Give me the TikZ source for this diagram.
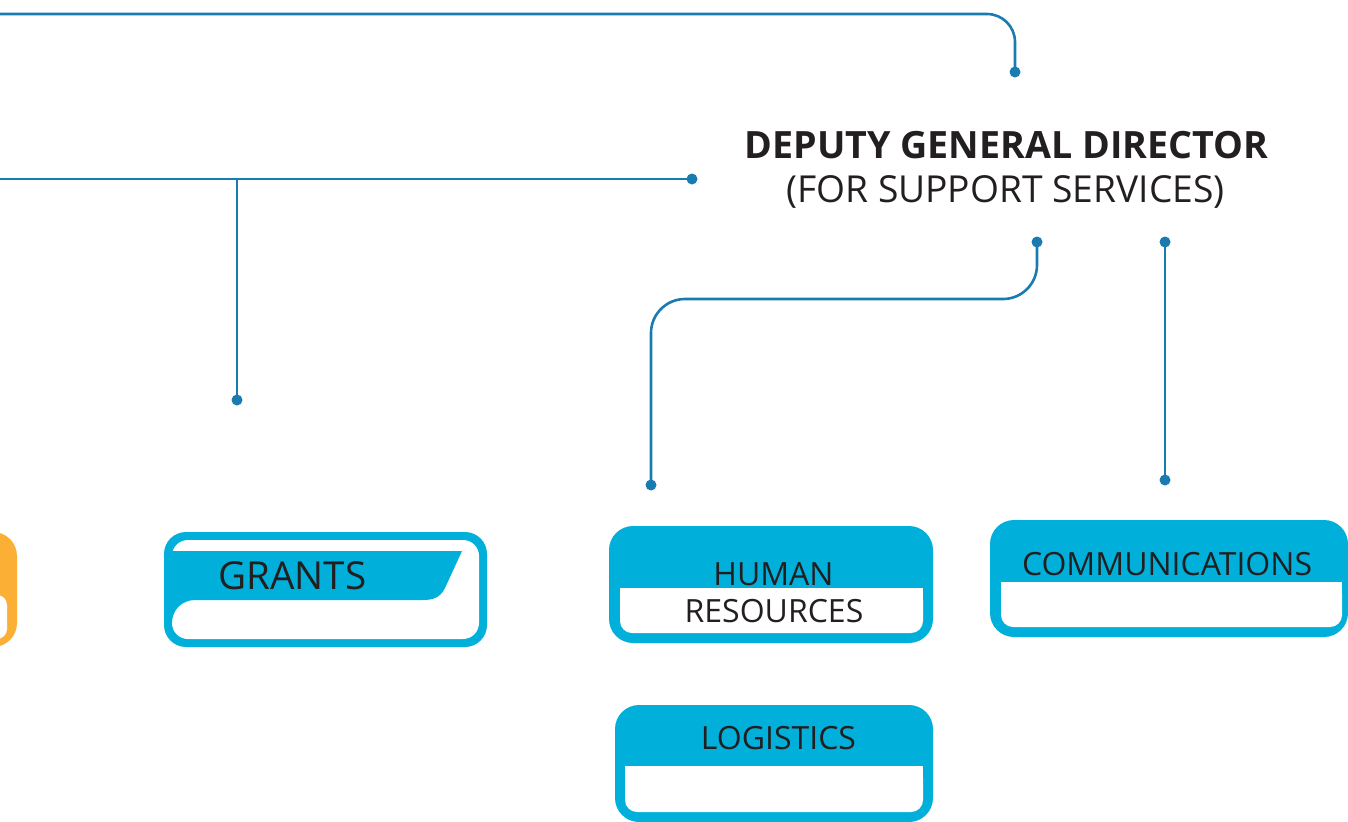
\documentclass[tikz,border=0pt]{standalone}
\usepackage{fontspec}
\setmainfont{Open Sans}
\usetikzlibrary{positioning}
\definecolor{linkblue}{HTML}{1A7BB0}
\definecolor{boxcyan}{HTML}{00B0DA}
\definecolor{boxorange}{HTML}{FBAF35}
\definecolor{inkgrey}{HTML}{231F20}

\begin{document}
\begin{tikzpicture}[x=0.5pt,y=-0.5pt,
  link/.style={draw=linkblue,line width=1.3pt},
  dot/.style={circle,fill=linkblue,inner sep=0pt,minimum size=5.5pt},
  unit box/.style={rectangle,rounded corners=12pt,fill=boxcyan,inner sep=0pt,outer sep=0pt},
  box label/.style={text=inkgrey,font=\fontsize{16}{18}\selectfont,inner sep=0pt,anchor=base}]

  \useasboundingbox (0,0) rectangle (1348,821);
  \clip (0,0) rectangle (1348,821);

  % connectors
  \coordinate (w1) at (0,14);
  \coordinate (w2) at (0,179);
  \coordinate (j1) at (237,179);
  \node[dot] (d1) at (1015,72) {};
  \node[dot] (d2) at (692,179) {};
  \node[dot] (d3) at (237,400) {};
  \node[dot] (d4) at (1037,242) {};
  \node[dot] (d5) at (651,485) {};
  \node[dot] (d6) at (1165,242) {};
  \node[dot] (d7) at (1165,480) {};
  \draw[link,rounded corners=14pt] (w1) -| (d1.center);
  \draw[link] (w2) -- (d2.center);
  \draw[link] (j1) -- (d3.center);
  \draw[link,rounded corners=17pt] (d4.center) -- ++(0,57) -| (d5.center);
  \draw[link] (d6.center) -- (d7.center);

  % title
  \node[anchor=base,inner sep=0pt,text=inkgrey,font=\bfseries\fontsize{18.8}{22}\selectfont] (dgd) at (1006.5,158) {DEPUTY GENERAL DIRECTOR};
  \node[anchor=base,inner sep=0pt,text=inkgrey,font=\fontsize{18.6}{22}\selectfont] (dgdsub) at (1005.5,202.5) {(FOR SUPPORT SERVICES)};

  % orange box, cut by the left edge
  \node[unit box,fill=boxorange,minimum width=170pt,minimum height=57.5pt,anchor=east] (leftbox) at (17,589.5) {};
  \fill[white,rounded corners=5pt] (-200,595) rectangle (7,639);

  % grants
  \node[unit box,rounded corners=11pt,minimum width=161.5pt,minimum height=57.5pt] (grants) at (325.5,589.5) {};
  \fill[white,rounded corners=8pt] (172,540) rectangle (479,639);
  \fill[boxcyan] (172,551) -- (462,551) -- (445,588) .. controls (440,598) and (433,600) .. (422,600)
    -- (195,600) .. controls (182,600) and (172,610) .. (172,623) -- cycle;
  \node[box label,font=\fontsize{19.3}{21}\selectfont] (grantsl) at (292.5,589) {GRANTS};

  % human resources
  \node[unit box,minimum width=162pt,minimum height=58.5pt] (hr) at (771,584.5) {};
  \fill[white,rounded corners=6pt] (620,588) rectangle (923,633);
  \fill[white] (620,588) rectangle (923,605);
  \node[box label] (hrl1) at (773.5,585) {HUMAN};
  \node[box label] (hrl2) at (774,622) {RESOURCES};

  % communications
  \node[unit box,minimum width=179pt,minimum height=58.5pt] (comm) at (1169,578.5) {};
  \fill[white,rounded corners=6pt] (1001,582) rectangle (1342,627);
  \fill[white] (1001,582) rectangle (1342,600);
  \node[box label] (comml) at (1167,575) {COMMUNICATIONS};

  % logistics
  \node[unit box,minimum width=159pt,minimum height=58.5pt] (logis) at (774,763.5) {};
  \fill[white,rounded corners=6pt] (625,766) rectangle (923,812);
  \fill[white] (625,766) rectangle (923,785);
  \node[box label] (logisl) at (778.5,749) {LOGISTICS};
\end{tikzpicture}
\end{document}
